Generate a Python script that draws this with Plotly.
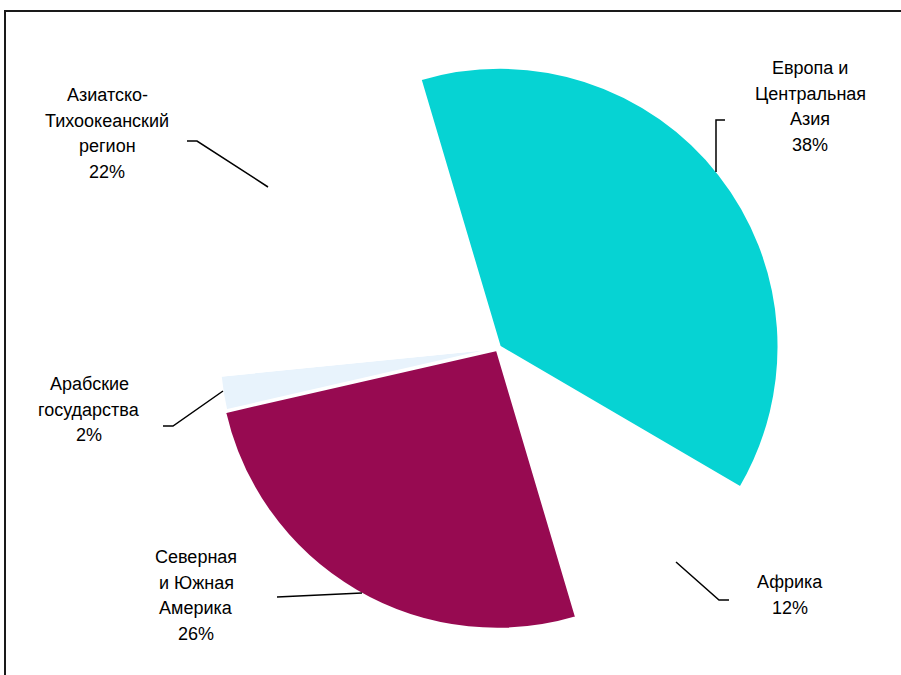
import plotly.graph_objects as go

# Regional shares (%), listed clockwise from the first slice
regions = ["Европа и Центральная Азия", "Африка", "Северная и Южная Америка",
           "Арабские государства", "Азиатско-Тихоокеанский регион"]
shares = [38, 12, 26, 2, 22]
label_lines = [["Европа и", "Центральная", "Азия"],
               ["Африка"],
               ["Северная", "и Южная", "Америка"],
               ["Арабские", "государства"],
               ["Азиатско-", "Тихоокеанский", "регион"]]
colors = ["#06D3D3", "#FFFFFF", "#970A51", "#E8F3FC", "#FFFFFF"]
pulls = [0.008, 0, 0.008, 0, 0]

W, H = 901, 675


def px(x):
    return x / W


def py(y):
    return 1 - y / H


# pie placement (pixels)
cx, cy, half = 498, 348, 281

fig = go.Figure(go.Pie(
    labels=regions, values=shares, sort=False, direction="clockwise",
    rotation=-16.5, pull=pulls, textinfo="none", hoverinfo="label+percent",
    marker=dict(colors=colors, line=dict(color="#FFFFFF", width=2)),
    domain=dict(x=[px(cx - half), px(cx + half)],
                y=[py(cy + half), py(cy - half)]),
    showlegend=False,
))

# label blocks: centre x and first-line y (pixels), plus leader lines
label_pos = [(810, 68), (790, 582), (196, 557), (89, 384), (107, 95)]
line_step = 25.6
leaders = [
    [(716, 172), (716, 120), (725, 120)],
    [(676, 562), (719, 600), (729, 600)],
    [(277, 597), (362, 593)],
    [(223, 391), (173, 426), (163, 426)],
    [(268, 187), (197, 141), (187, 141)],
]

annotations = []
shapes = []
for lines, val, (lx, ly), pts in zip(label_lines, shares, label_pos, leaders):
    for k, line in enumerate(lines + [f"{val}%"]):
        annotations.append(dict(
            x=px(lx), y=py(ly + k * line_step), xref="paper", yref="paper",
            showarrow=False, text=line, align="center",
            xanchor="center", yanchor="middle",
            font=dict(family="Liberation Sans, Arial, sans-serif", size=18,
                      color="#000000"),
        ))
    path = "M " + " L ".join(f"{px(x):.5f},{py(y):.5f}" for x, y in pts)
    shapes.append(dict(type="path", path=path, xref="paper", yref="paper",
                       line=dict(color="#000000", width=1.5)))

# chart frame (runs past the right and bottom edges)
shapes.append(dict(type="rect", xref="paper", yref="paper",
                   x0=px(5), y0=-0.05, x1=1.05, y1=py(11),
                   line=dict(color="#1a1a1a", width=2)))

fig.update_layout(
    width=W, height=H, margin=dict(l=0, r=0, t=0, b=0),
    paper_bgcolor="#FFFFFF", plot_bgcolor="#FFFFFF",
    annotations=annotations, shapes=shapes,
)

fig.write_html("out.html")
